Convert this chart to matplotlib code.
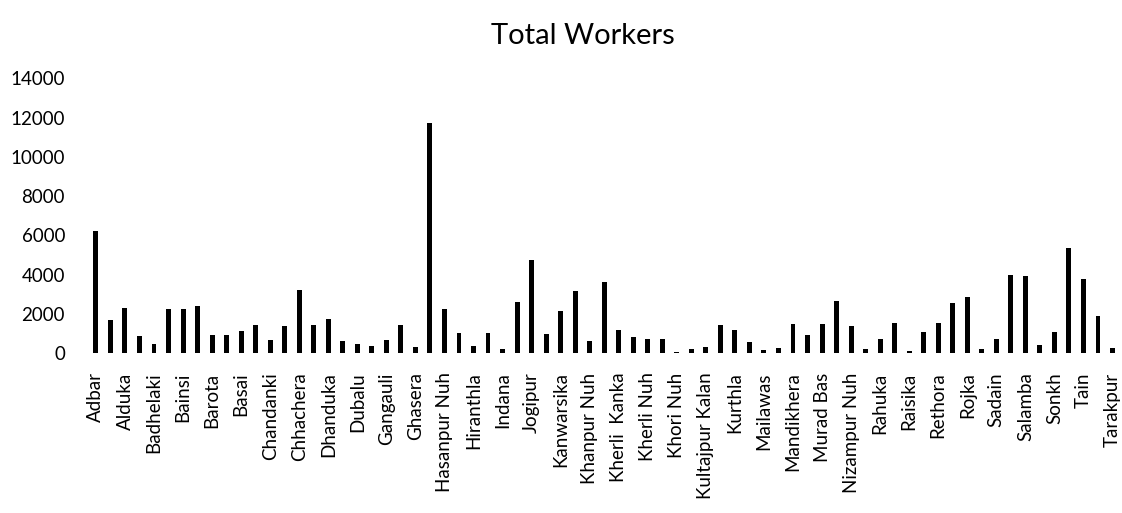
import matplotlib

matplotlib.use("Agg")
import matplotlib.pyplot as plt
import numpy as np

# Workers per village, in the order they appear on the axis
workers = [
    6200, 1700, 2300, 850, 450, 2250, 2250, 2400, 900, 900,
    1100, 1400, 680, 1350, 3200, 1400, 1750, 620, 480, 350,
    650, 1450, 300, 11750, 2250, 1000, 330, 1000, 180, 2600,
    4750, 950, 2150, 3150, 600, 3600, 1150, 800, 720, 720,
    60, 220, 300, 1420, 1150, 550, 130, 260, 1480, 920,
    1480, 2650, 1380, 200, 700, 1550, 120, 1050, 1550, 2550,
    2850, 200, 700, 4000, 3950, 380, 1080, 5350, 3750, 1900,
    250,
]

# Only every second village gets a label on the axis
village_labels = [
    "Adbar", "Alduka", "Badhelaki", "Bainsi", "Barota", "Basai",
    "Chandanki", "Chhachera", "Dhanduka", "Dubalu", "Gangauli", "Ghasera",
    "Hasanpur Nuh", "Hiranthla", "Indana", "Jogipur", "Kanwarsika",
    "Khanpur Nuh", "Kherli  Kanka", "Kherli Nuh", "Khori Nuh",
    "Kultajpur Kalan", "Kurthla", "Mailawas", "Mandikhera", "Murad Bas",
    "Nizampur Nuh", "Rahuka", "Raisika", "Rethora", "Rojka", "Sadain",
    "Salamba", "Sonkh", "Tain", "Tarakpur",
]

y_ticks = [0, 2000, 4000, 6000, 8000, 10000, 12000, 14000]


def main() -> None:
    plt.rcParams["font.family"] = ["Lato", "DejaVu Sans"]

    fig = plt.figure(figsize=(11.22, 5.13), dpi=100)
    ax = fig.add_axes([0.079, 0.312, 0.919, 0.535])

    x = np.arange(len(workers))
    ax.bar(x, workers, width=0.34, color="black")

    ax.set_xlim(-0.5, len(workers) - 0.5)
    ax.set_ylim(0, 14000)

    ax.set_yticks(y_ticks)
    ax.set_yticklabels([str(v) for v in y_ticks], fontsize=13.5)
    ax.set_xticks(x[::2])
    ax.set_xticklabels(village_labels, rotation=90, fontsize=13.5)

    ax.tick_params(axis="y", length=0, pad=17)
    ax.tick_params(axis="x", length=0, pad=14)
    for spine in ax.spines.values():
        spine.set_visible(False)

    fig.text(583 / 1122, 1 - 36 / 513, "Total Workers", ha="center",
             va="center", fontsize=21)

    fig.savefig("out.png", dpi=100)
    plt.close(fig)


if __name__ == "__main__":
    main()
